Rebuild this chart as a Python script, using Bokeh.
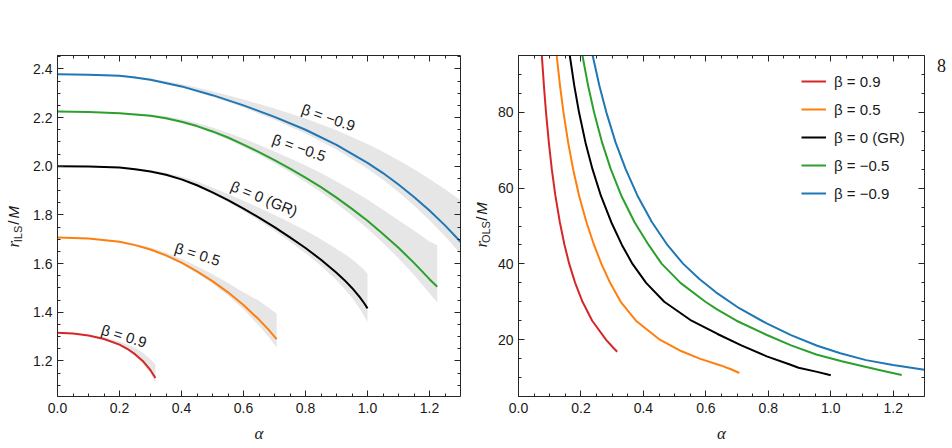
import math
from bokeh.plotting import figure
from bokeh.models import (Range1d, LinearAxis, SingleIntervalTicker, CustomJSTickFormatter,
                          PrintfTickFormatter, Label, Legend, LegendItem)
from bokeh.layouts import row
from bokeh.embed import file_html
from bokeh.resources import INLINE

# ---------------- data ----------------
beta_labels = ["β = 0.9", "β = 0.5", "β = 0 (GR)", "β = −0.5", "β = −0.9"]
colors = ["#d62728", "#ff7f0e", "#000000", "#2ca02c", "#1f77b4"]

# left panel: r_ILS / M versus alpha, with grey bands
ils_a_09 = [0, 0.05, 0.1, 0.15, 0.2, 0.225, 0.25, 0.275, 0.3, 0.316]
ils_r_09 = [1.316, 1.313, 1.305, 1.290, 1.267, 1.250, 1.228, 1.200, 1.162, 1.130]
ils_hi_09 = [1.316, 1.314, 1.308, 1.297, 1.280, 1.268, 1.253, 1.234, 1.207, 1.186]
ils_lo_09 = [1.316, 1.312, 1.303, 1.287, 1.262, 1.244, 1.220, 1.190, 1.148, 1.112]

ils_a_05 = [0, 0.1, 0.2, 0.25, 0.3, 0.35, 0.4, 0.45, 0.5, 0.55, 0.6, 0.65, 0.68, 0.707]
ils_r_05 = [1.707, 1.703, 1.690, 1.676, 1.658, 1.634, 1.604, 1.568, 1.528, 1.482, 1.430, 1.370,
            1.330, 1.290]
ils_hi_05 = [1.707, 1.705, 1.694, 1.682, 1.666, 1.645, 1.620, 1.589, 1.556, 1.520, 1.482, 1.447,
             1.420, 1.394]
ils_lo_05 = [1.707, 1.702, 1.688, 1.673, 1.654, 1.629, 1.598, 1.560, 1.518, 1.469, 1.412, 1.345,
             1.300, 1.255]

ils_a_00 = [0, 0.1, 0.2, 0.25, 0.3, 0.35, 0.4, 0.45, 0.5, 0.55, 0.6, 0.65, 0.7, 0.75, 0.8, 0.85,
            0.9, 0.925, 0.95, 0.975, 0.99, 1.0]
ils_r_00 = [2.000, 1.999, 1.995, 1.988, 1.978, 1.965, 1.946, 1.922, 1.893, 1.861, 1.826, 1.789,
            1.750, 1.708, 1.664, 1.616, 1.562, 1.533, 1.500, 1.462, 1.436, 1.416]
ils_hi_00 = [2.000, 2.000, 1.998, 1.992, 1.984, 1.973, 1.957, 1.937, 1.912, 1.886, 1.858, 1.829,
             1.800, 1.769, 1.736, 1.700, 1.660, 1.641, 1.618, 1.591, 1.573, 1.558]
ils_lo_00 = [2.000, 1.998, 1.993, 1.986, 1.975, 1.961, 1.941, 1.916, 1.886, 1.853, 1.816, 1.777,
             1.735, 1.690, 1.643, 1.591, 1.532, 1.498, 1.460, 1.415, 1.384, 1.361]

ils_a_m05 = [0, 0.1, 0.2, 0.3, 0.35, 0.4, 0.45, 0.5, 0.55, 0.6, 0.65, 0.7, 0.75, 0.8, 0.85, 0.9,
             0.95, 1.0, 1.05, 1.1, 1.15, 1.2, 1.225]
ils_r_m05 = [2.225, 2.223, 2.218, 2.207, 2.197, 2.183, 2.165, 2.143, 2.118, 2.089, 2.058, 2.025,
             1.990, 1.953, 1.914, 1.871, 1.825, 1.776, 1.722, 1.665, 1.603, 1.536, 1.505]
ils_hi_m05 = [2.225, 2.224, 2.221, 2.213, 2.205, 2.193, 2.178, 2.159, 2.138, 2.114, 2.088, 2.061,
              2.033, 2.003, 1.972, 1.937, 1.901, 1.863, 1.821, 1.778, 1.736, 1.691, 1.675]
ils_lo_m05 = [2.225, 2.222, 2.216, 2.204, 2.193, 2.178, 2.159, 2.136, 2.110, 2.079, 2.047, 2.012,
              1.975, 1.935, 1.893, 1.847, 1.797, 1.744, 1.685, 1.622, 1.553, 1.478, 1.440]

ils_a_m09 = [0, 0.1, 0.2, 0.25, 0.3, 0.4, 0.5, 0.6, 0.7, 0.8, 0.9, 1.0, 1.05, 1.1, 1.15, 1.2, 1.25,
             1.3]
ils_r_m09 = [2.378, 2.376, 2.372, 2.365, 2.355, 2.328, 2.292, 2.250, 2.203, 2.150, 2.088, 2.014,
             1.972, 1.925, 1.874, 1.818, 1.757, 1.690]
ils_hi_m09 = [2.378, 2.377, 2.375, 2.369, 2.361, 2.338, 2.308, 2.274, 2.237, 2.196, 2.148, 2.091,
              2.060, 2.025, 1.988, 1.948, 1.906, 1.860]
ils_lo_m09 = [2.378, 2.375, 2.370, 2.362, 2.352, 2.324, 2.286, 2.241, 2.191, 2.135, 2.069, 1.990,
              1.945, 1.894, 1.839, 1.778, 1.712, 1.640]

# right panel: r_OLS / M versus alpha
ols_a_09 = [0.0747, 0.0814, 0.0881, 0.0972, 0.1066, 0.1181, 0.1324, 0.1473, 0.1625, 0.1814,
            0.205, 0.236, 0.28, 0.302, 0.316]
ols_r_09 = [95, 87, 80, 72, 65, 58, 51, 45, 40, 35, 30, 25, 20, 18, 16.8]

ols_a_05 = [0.1223, 0.133, 0.144, 0.159, 0.1749, 0.194, 0.2176, 0.2418, 0.2655, 0.2934, 0.3273,
            0.376, 0.4525, 0.5206, 0.58, 0.6477, 0.6803, 0.707]
ols_r_05 = [95, 87, 80, 72, 65, 58, 51, 45, 40, 35, 30, 25, 20, 17, 15, 13.2, 12.2, 11.2]

ols_a_00 = [0.1642, 0.1787, 0.1938, 0.2146, 0.2369, 0.2638, 0.2971, 0.3311, 0.365, 0.4086,
            0.4667, 0.554, 0.6372, 0.7135, 0.7949, 0.8667, 0.8968, 0.9565, 1.0]
ols_r_00 = [95, 87, 80, 72, 65, 58, 51, 45, 40, 35, 30, 25, 21.5, 18.5, 15.6, 13.5, 12.6, 11.5,
            10.6]

ols_a_m05 = [0.2047, 0.223, 0.2419, 0.2678, 0.2954, 0.3293, 0.3716, 0.4167, 0.4588, 0.5186,
             0.5983, 0.6357, 0.698, 0.7934, 0.873, 0.9534, 1.035, 1.1133, 1.1653, 1.227]
ols_r_m05 = [95, 87, 80, 72, 65, 58, 51, 45, 40, 35, 30, 28, 25, 21.3, 18.5, 16.1, 14.3, 12.8,
             11.8, 10.7]

ols_a_m09 = [0.2374, 0.259, 0.2813, 0.3111, 0.3431, 0.381, 0.4275, 0.4767, 0.5275, 0.5792,
             0.6323, 0.7067, 0.793, 0.8726, 0.9565, 1.0305, 1.113, 1.1992, 1.3]
ols_r_m09 = [95, 87, 80, 72, 65, 58, 51, 45, 40, 36, 32.5, 28.3, 24.35, 21.2, 18.4, 16.4, 14.6,
             13.3, 12.08]

# ---------------- styling helpers ----------------
SANS = "Liberation Sans"
SERIF = "Liberation Serif"
BAND = "#e6e6e6"
FRAME = "#262626"
TXT = "#1a1a1a"
H = 448


def style_axis(ax, show_labels=True, fmt="%.1f"):
    ax.axis_line_color = FRAME
    ax.axis_line_width = 1
    ax.major_tick_line_color = FRAME
    ax.minor_tick_line_color = FRAME
    ax.major_tick_in = 6
    ax.major_tick_out = 0
    ax.minor_tick_in = 3
    ax.minor_tick_out = 0
    ax.major_label_text_font = SANS
    ax.major_label_text_font_size = "14px"
    ax.major_label_text_color = TXT
    ax.major_label_standoff = 5
    ax.axis_label_standoff = 0
    if show_labels:
        ax.formatter = PrintfTickFormatter(format=fmt)
    else:
        ax.formatter = CustomJSTickFormatter(code="return ''")
        ax.major_label_standoff = 0
        ax.major_label_text_font_size = "1px"


def make_fig(yr, w, bl, br, bt, bb, xint, yint, yfmt):
    # width/height fixed: the frame is what remains inside the min borders
    p = figure(x_range=Range1d(0, 1.3), y_range=Range1d(*yr),
               width=w, height=H,
               min_border_left=bl, min_border_right=br,
               min_border_top=bt, min_border_bottom=bb,
               output_backend="svg", toolbar_location=None)
    p.xgrid.visible = False
    p.ygrid.visible = False
    p.outline_line_color = None
    p.background_fill_color = "white"
    p.border_fill_color = "white"
    for ax in p.xaxis:
        ax.ticker = SingleIntervalTicker(interval=xint, num_minor_ticks=4)
        style_axis(ax, fmt="%.1f")
        ax.major_label_standoff = 6
        ax.axis_label = "α"
        ax.axis_label_text_font = SERIF
        ax.axis_label_text_font_style = "italic"
        ax.axis_label_text_font_size = "17px"
        ax.axis_label_text_color = TXT
        ax.axis_label_standoff = 8
    for ax in p.yaxis:
        ax.ticker = SingleIntervalTicker(interval=yint, num_minor_ticks=4)
        style_axis(ax, fmt=yfmt)
    top = LinearAxis(ticker=SingleIntervalTicker(interval=xint, num_minor_ticks=4))
    style_axis(top, show_labels=False)
    p.add_layout(top, "above")
    right = LinearAxis(ticker=SingleIntervalTicker(interval=yint, num_minor_ticks=4))
    style_axis(right, show_labels=False)
    p.add_layout(right, "right")
    return p


def text_strip(width):
    s = figure(width=width, height=H, x_range=Range1d(0, width), y_range=Range1d(0, H),
               min_border=0, output_backend="svg", toolbar_location=None,
               x_axis_location=None, y_axis_location=None)
    s.xgrid.visible = False
    s.ygrid.visible = False
    s.outline_line_color = None
    s.background_fill_color = "white"
    s.border_fill_color = "white"
    return s


def vlabel(s, parts):
    # parts: (text, x from strip's left, y from page top, font, size, style)
    for txt, x, y, font, size, style in parts:
        s.add_layout(Label(x=x, y=H - y, text=txt, angle=math.pi / 2,
                           text_align="center", text_baseline="middle",
                           text_font=font, text_font_size=size, text_font_style=style,
                           text_color=TXT))


# layout columns (page x): strip 0-30 | left plot 30-472 | strip 472-494 |
#                          right plot 494-936 | strip 936-952

# ---------------- left y label strip ----------------
lab1 = text_strip(30)
vlabel(lab1, [("r", 13, 248, SERIF, "17px", "italic"),
              ("ILS", 17, 234.5, SANS, "11px", "normal"),
              ("/", 13, 219.5, SANS, "15px", "normal"),
              ("M", 13, 206, SANS, "15px", "italic")])

# ---------------- left panel ----------------
p1 = make_fig((1.054, 2.455), 442, 27, 12, 55, 52, 0.2, 0.2, "%.1f")

ils = [
    (ils_a_09, ils_r_09, ils_lo_09, ils_hi_09),
    (ils_a_05, ils_r_05, ils_lo_05, ils_hi_05),
    (ils_a_00, ils_r_00, ils_lo_00, ils_hi_00),
    (ils_a_m05, ils_r_m05, ils_lo_m05, ils_hi_m05),
    (ils_a_m09, ils_r_m09, ils_lo_m09, ils_hi_m09),
]
for a, r, lo, hi in ils:
    p1.varea(x=a, y1=lo, y2=hi, fill_color=BAND, fill_alpha=1)
for (a, r, lo, hi), c in zip(ils, colors):
    p1.line(a, r, line_color=c, line_width=2, line_join="round")

# curve labels: (label index, alpha, r, angle in degrees)
curve_label_pos = [(0, 0.215, 1.303, 17), (1, 0.452, 1.639, 17), (2, 0.667, 1.868, 22),
                   (3, 0.780, 2.077, 19), (4, 0.874, 2.201, 19)]
for i, xa, yr_, ang in curve_label_pos:
    p1.add_layout(Label(x=xa, y=yr_, text=beta_labels[i], angle=-math.radians(ang),
                        text_align="center", text_baseline="middle",
                        text_font=SANS, text_font_size="15px", text_color=TXT))

# ---------------- right y label strip ----------------
lab2 = text_strip(22)
vlabel(lab2, [("r", 9, 248, SERIF, "17px", "italic"),
              ("OLS", 13, 232, SANS, "11px", "normal"),
              ("/", 9, 214.5, SANS, "15px", "normal"),
              ("M", 9, 201, SANS, "15px", "italic")])

# ---------------- right panel ----------------
p2 = make_fig((5, 95), 442, 23, 12, 53, 51, 0.2, 20, "%d")

ols = [(ols_a_09, ols_r_09), (ols_a_05, ols_r_05), (ols_a_00, ols_r_00),
       (ols_a_m05, ols_r_m05), (ols_a_m09, ols_r_m09)]
items = []
for (a, r), c, lab in zip(ols, colors, beta_labels):
    rr = p2.line(a, r, line_color=c, line_width=2, line_join="round")
    items.append(LegendItem(label=lab, renderers=[rr]))

legend = Legend(items=items, location=(283, 193), border_line_color=None,
                background_fill_alpha=0, padding=0, margin=0, spacing=8,
                glyph_width=25, glyph_height=20, label_height=20, label_standoff=8,
                label_text_font=SANS, label_text_font_size="15px",
                label_text_color=TXT)
p2.add_layout(legend)

# ---------------- page number strip ----------------
page = text_strip(16)
page.add_layout(Label(x=5, y=H - 13, text="8", text_align="center", text_baseline="middle",
                      text_font=SERIF, text_font_size="18px", text_color=TXT))

layout = row(lab1, p1, lab2, p2, page)
open("out.html", "w").write(file_html(layout, INLINE))
